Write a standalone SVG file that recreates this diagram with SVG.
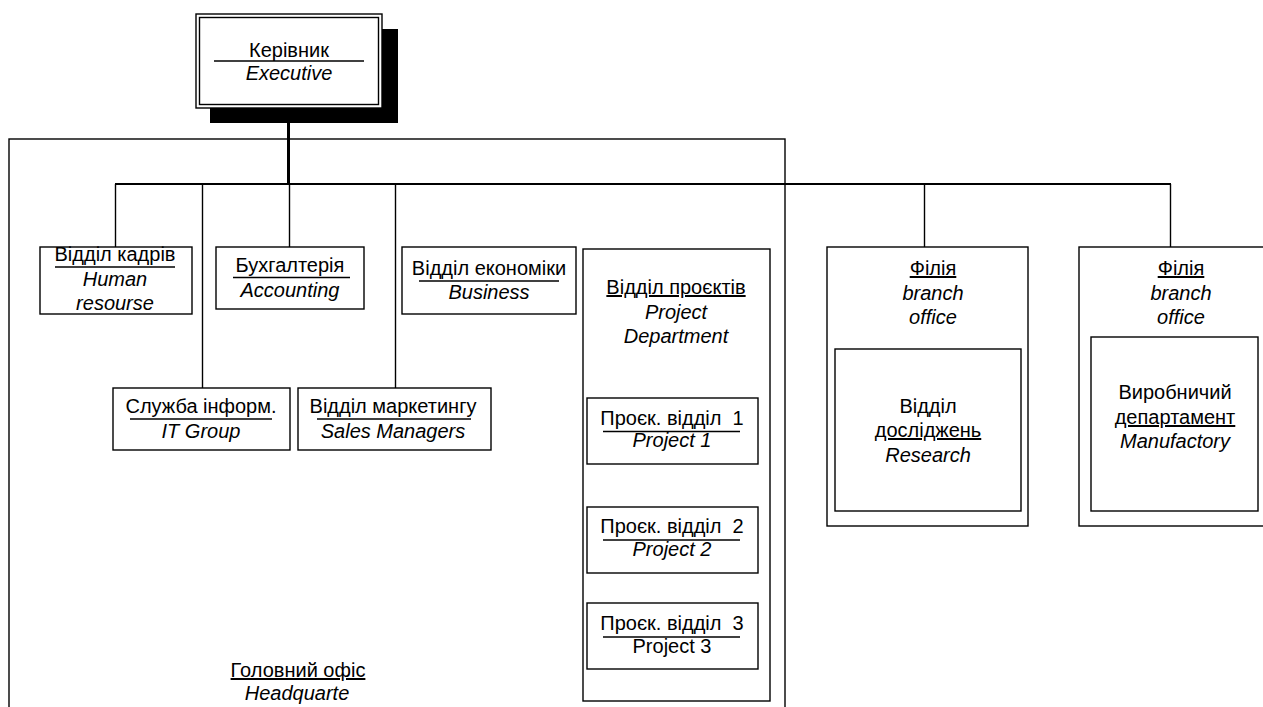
<svg xmlns="http://www.w3.org/2000/svg" width="1263" height="707" viewBox="0 0 1263 707">
<style>
text{font-family:"Liberation Sans",Arial,sans-serif;font-size:20px;fill:#000;text-anchor:middle}
.i{font-style:italic}
.u{text-decoration:underline}
.box{fill:#fff;stroke:#000;stroke-width:1.4}
.frame{fill:none;stroke:#000;stroke-width:1.4}
.rule{stroke:#000;stroke-width:1.4}
.conn{stroke:#000;stroke-width:1.4;fill:none}
</style>
<g id="headquarters">
<rect class="frame" x="9" y="139" width="776" height="580"/>
<text x="298" y="677" class="u">Головний офіс</text>
<text x="297" y="700" class="i">Headquarte</text>
</g>
<g id="connectors">
<line x1="288.5" y1="120" x2="288.5" y2="184" stroke="#000" stroke-width="3"/>
<line x1="115" y1="184" x2="1171" y2="184" stroke="#000" stroke-width="2.2"/>
<line class="conn" x1="115.5" y1="184" x2="115.5" y2="247"/>
<line class="conn" x1="202.5" y1="184" x2="202.5" y2="388"/>
<line class="conn" x1="289.5" y1="184" x2="289.5" y2="247"/>
<line class="conn" x1="395.5" y1="184" x2="395.5" y2="388"/>
<line class="conn" x1="924.5" y1="184" x2="924.5" y2="247"/>
<line class="conn" x1="1170.5" y1="184" x2="1170.5" y2="247"/>
</g>
<g id="executive">
<rect x="210" y="29" width="188" height="94" fill="#000"/>
<rect class="box" x="196" y="14" width="186" height="94"/>
<rect class="frame" x="199.5" y="17.5" width="179" height="87"/>
<text x="289" y="57">Керівник</text>
<line class="rule" x1="214" y1="61" x2="364" y2="61"/>
<text x="289" y="80" class="i">Executive</text>
</g>
<g id="hr">
<rect class="box" x="40" y="247" width="152" height="67"/>
<text x="115" y="261">Відділ кадрів</text>
<line class="rule" x1="55" y1="267" x2="175" y2="267"/>
<text x="115" y="286" class="i">Human</text>
<text x="115" y="310" class="i">resourse</text>
</g>
<g id="accounting">
<rect class="box" x="216" y="247" width="148" height="62"/>
<text x="290" y="272">Бухгалтерія</text>
<line class="rule" x1="233" y1="277.5" x2="350" y2="277.5"/>
<text x="290" y="297" class="i">Accounting</text>
</g>
<g id="business">
<rect class="box" x="402" y="247" width="174" height="67"/>
<text x="489" y="275">Відділ економіки</text>
<line class="rule" x1="419" y1="281" x2="559" y2="281"/>
<text x="489" y="299" class="i">Business</text>
</g>
<g id="it">
<rect class="box" x="113" y="388" width="177" height="62"/>
<text x="201" y="413">Служба інформ.</text>
<line class="rule" x1="130" y1="419" x2="272" y2="419"/>
<text x="201" y="438" class="i">IT Group</text>
</g>
<g id="marketing">
<rect class="box" x="298" y="388" width="193" height="62"/>
<text x="393" y="413">Відділ маркетингу</text>
<line class="rule" x1="317" y1="419" x2="471" y2="419"/>
<text x="393" y="438" class="i">Sales Managers</text>
</g>
<g id="projects">
<rect class="box" x="583" y="249" width="187" height="452"/>
<text x="676" y="294" class="u">Відділ проєктів</text>
<text x="676" y="319" class="i">Project</text>
<text x="676" y="343" class="i">Department</text>
</g>
<g id="project1">
<rect class="box" x="587" y="398" width="171" height="66"/>
<text x="672" y="425" style="white-space:pre">Проєк. відділ  1</text>
<line class="rule" x1="603" y1="431.5" x2="740" y2="431.5"/>
<text x="672" y="447" class="i">Project 1</text>
</g>
<g id="project2">
<rect class="box" x="587" y="507" width="171" height="66"/>
<text x="672" y="533" style="white-space:pre">Проєк. відділ  2</text>
<line class="rule" x1="603" y1="540" x2="740" y2="540"/>
<text x="672" y="556" class="i">Project 2</text>
</g>
<g id="project3">
<rect class="box" x="587" y="603" width="171" height="66"/>
<text x="672" y="630" style="white-space:pre">Проєк. відділ  3</text>
<line class="rule" x1="603" y1="637" x2="740" y2="637"/>
<text x="672" y="653">Project 3</text>
</g>
<g id="branch1">
<rect class="box" x="827" y="247" width="201" height="279"/>
<text x="933" y="275" class="u">Філія</text>
<text x="933" y="300" class="i">branch</text>
<text x="933" y="324" class="i">office</text>
</g>
<g id="research">
<rect class="box" x="835" y="349" width="186" height="162"/>
<text x="928" y="413">Відділ</text>
<text x="928" y="437" class="u">досліджень</text>
<text x="928" y="462" class="i">Research</text>
</g>
<g id="branch2">
<rect class="box" x="1079" y="247" width="200" height="279"/>
<text x="1181" y="275" class="u">Філія</text>
<text x="1181" y="300" class="i">branch</text>
<text x="1181" y="324" class="i">office</text>
</g>
<g id="manufactory">
<rect class="box" x="1091" y="337" width="167" height="174"/>
<text x="1175" y="399">Виробничий</text>
<text x="1175" y="424" class="u">департамент</text>
<text x="1175" y="448" class="i">Manufactory</text>
</g>
</svg>
